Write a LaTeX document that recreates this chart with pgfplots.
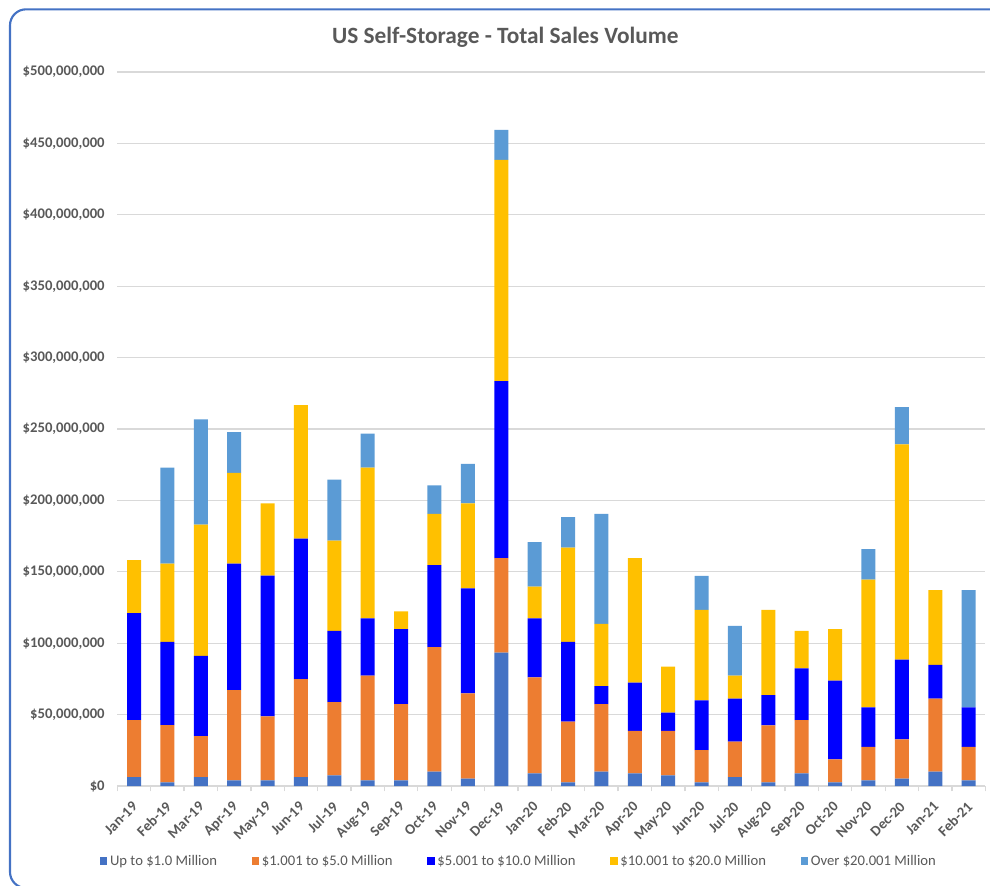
\documentclass[border=0pt]{standalone}
\usepackage{pgfplots}
\pgfplotsset{compat=1.18}
\usepackage{pgfplotstable}
\usepackage{fontspec}
\setmainfont{Carlito}
\definecolor{cA}{HTML}{4472C4}
\definecolor{cB}{HTML}{ED7D31}
\definecolor{cC}{HTML}{0000FF}
\definecolor{cD}{HTML}{FFC000}
\definecolor{cE}{HTML}{5B9BD5}
\definecolor{txt}{HTML}{595959}
\definecolor{gridc}{HTML}{D9D9D9}
\pgfplotstableread{
x a b c d e
0 6.3 39.8 75.0 37.0 0
1 2.6 40.0 58.3 54.8 67.3
2 6.3 28.6 56.2 92.0 73.6
3 4.0 63.2 88.5 63.5 28.6
4 4.0 44.7 98.6 50.6 0
5 6.3 68.6 98.4 93.4 0
6 7.5 51.3 49.9 63.2 42.6
7 4.0 73.3 40.0 105.7 23.8
8 4.0 53.4 52.4 12.4 0
9 10.1 87.1 57.4 36.0 19.9
10 5.2 59.7 73.5 59.5 27.6
11 93.4 66.1 124.1 154.8 21.0
12 8.9 67.2 41.2 22.3 31.1
13 2.6 42.4 55.9 66.1 21.3
14 10.1 47.3 12.6 43.6 77.0
15 8.9 29.7 33.8 87.1 0
16 7.5 31.1 12.7 32.3 0
17 2.6 22.5 34.9 63.4 23.7
18 6.3 24.8 30.0 16.2 34.9
19 2.6 39.8 21.3 59.7 0
20 8.9 37.2 36.3 26.3 0
21 2.6 16.1 55.1 36.0 0
22 4.0 23.4 27.6 89.5 21.3
23 5.2 27.4 55.9 150.8 26.0
24 10.1 51.0 23.7 52.4 0
25 4.0 23.4 27.6 0 82.2
}\data
\begin{document}
\begin{tikzpicture}
\begin{scope}
\clip (0,0) rectangle (742.5pt,664.5pt);
\draw[cA, line width=1.6pt, rounded corners=12pt] (7.5pt,-1.5pt) rectangle (760pt,657.5pt);
\end{scope}
\node[font=\bfseries\fontsize{17.5}{20}\selectfont, text=txt] at (379pt,636.5pt) {US Self-Storage - Total Sales Volume};
\begin{axis}[
  at={(88pt,75pt)}, anchor=south west,
  scale only axis, width=651pt, height=535.5pt,
  ybar stacked, bar width=10.5pt,
  xmin=-0.5, xmax=25.5, ymin=0, ymax=500,
  xtick=data,
  xticklabels={Jan-19,Feb-19,Mar-19,Apr-19,May-19,Jun-19,Jul-19,Aug-19,Sep-19,Oct-19,Nov-19,Dec-19,Jan-20,Feb-20,Mar-20,Apr-20,May-20,Jun-20,Jul-20,Aug-20,Sep-20,Oct-20,Nov-20,Dec-20,Jan-21,Feb-21},
  extra x ticks={-0.5,0.5,...,25.5},
  extra x tick labels={},
  extra x tick style={xmajorgrids=false, major tick length=4pt, tick style={draw=gridc, line width=1pt}},
  ytick={0,50,...,500},
  yticklabels={\$0,{\$50,000,000},{\$100,000,000},{\$150,000,000},{\$200,000,000},{\$250,000,000},{\$300,000,000},{\$350,000,000},{\$400,000,000},{\$450,000,000},{\$500,000,000}},
  /pgf/number format/assume math mode=true,
  ymajorgrids, xmajorgrids=false, major grid style={draw=gridc, line width=1pt},
  axis x line*=bottom, axis y line*=left,
  y axis line style={draw=none},
  x axis line style={draw=gridc, line width=1pt},
  major tick length=0pt,
  xtick pos=bottom, tick align=outside,
  yticklabel style={font=\bfseries\fontsize{11}{13}\selectfont, text=txt, xshift=-6pt},
  xticklabel style={font=\bfseries\fontsize{11}{13}\selectfont, text=txt, xshift=-2pt, yshift=-9.5pt, rotate=45, anchor=north east, inner sep=1pt},
  legend style={at={(0.463,-0.105)}, anchor=center, draw=none, font=\fontsize{11}{13}\selectfont, text=txt, legend columns=5, /tikz/every even column/.append style={column sep=24pt}},
  legend image code/.code={\fill[#1] (0pt,-2.8pt) rectangle (5.6pt,2.8pt);},
]
\addplot[fill=cA, draw=none] table[x=x,y=a] {\data};
\addplot[fill=cB, draw=none] table[x=x,y=b] {\data};
\addplot[fill=cC, draw=none] table[x=x,y=c] {\data};
\addplot[fill=cD, draw=none] table[x=x,y=d] {\data};
\addplot[fill=cE, draw=none] table[x=x,y=e] {\data};
\legend{Up to \$1.0 Million,\$1.001 to \$5.0 Million,\$5.001 to \$10.0 Million,\$10.001 to \$20.0 Million,Over \$20.001 Million}
\end{axis}
\pgfresetboundingbox
\path[use as bounding box] (0,0) rectangle (742.5pt,664.5pt);
\end{tikzpicture}
\end{document}
